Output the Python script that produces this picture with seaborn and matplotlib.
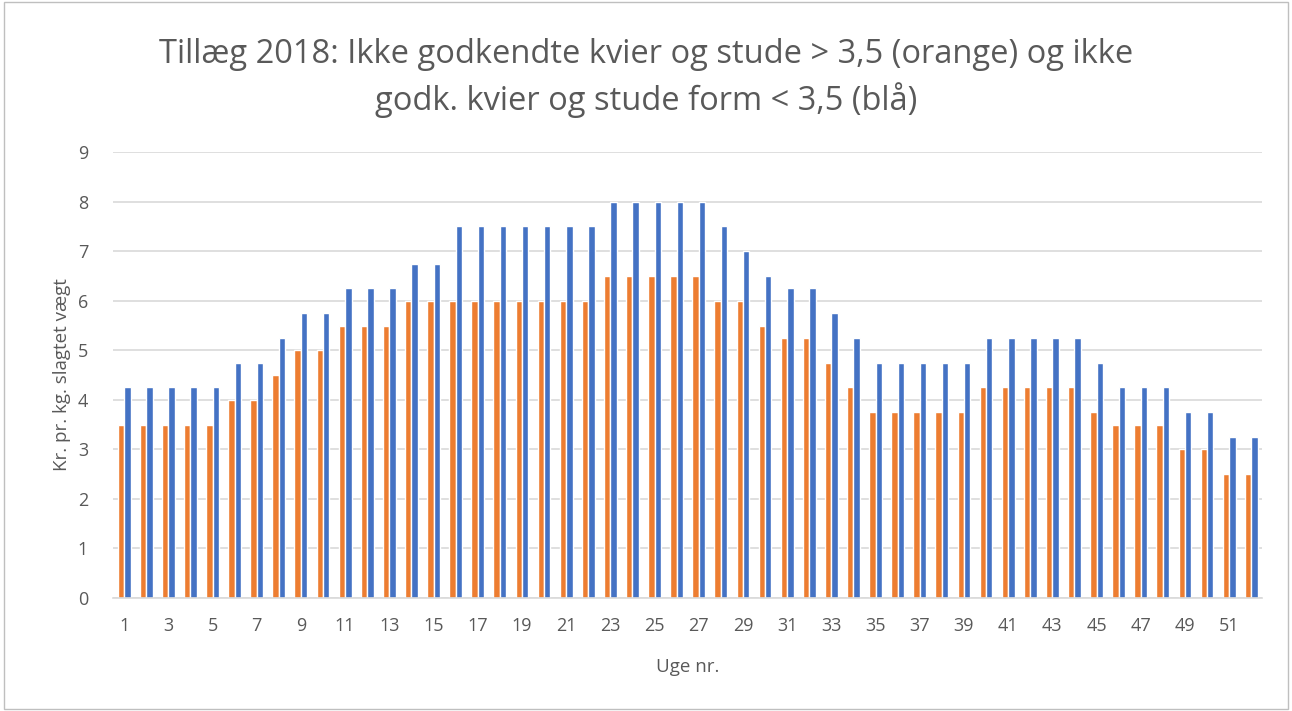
import matplotlib
matplotlib.use('Agg')
import matplotlib.pyplot as plt
import matplotlib.patches as patches
import numpy as np
import pandas as pd
import seaborn as sns

# Ugenumre og tillæg (kr. pr. kg)
uger = list(range(1, 53))
orange = [3.5, 3.5, 3.5, 3.5, 3.5, 4, 4, 4.5, 5, 5,
          5.5, 5.5, 5.5, 6, 6, 6, 6, 6, 6, 6,
          6, 6, 6.5, 6.5, 6.5, 6.5, 6.5, 6, 6, 5.5,
          5.25, 5.25, 4.75, 4.25, 3.75, 3.75, 3.75, 3.75, 3.75, 4.25,
          4.25, 4.25, 4.25, 4.25, 3.75, 3.5, 3.5, 3.5, 3, 3,
          2.5, 2.5]
blaa = [4.25, 4.25, 4.25, 4.25, 4.25, 4.75, 4.75, 5.25, 5.75, 5.75,
        6.25, 6.25, 6.25, 6.75, 6.75, 7.5, 7.5, 7.5, 7.5, 7.5,
        7.5, 7.5, 8, 8, 8, 8, 8, 7.5, 7, 6.5,
        6.25, 6.25, 5.75, 5.25, 4.75, 4.75, 4.75, 4.75, 4.75, 5.25,
        5.25, 5.25, 5.25, 5.25, 4.75, 4.25, 4.25, 4.25, 3.75, 3.75,
        3.25, 3.25]

df = pd.DataFrame({
    'uge': uger * 2,
    'kr': orange + blaa,
    'serie': ['orange'] * 52 + ['blaa'] * 52,
})

sns.set_style('white')
plt.rcParams['font.family'] = ['Open Sans', 'DejaVu Sans']

fig = plt.figure(figsize=(12.92, 7.11), dpi=100)
ax = fig.add_axes([0.0875, 0.159, 0.8895, 0.627])

sns.barplot(data=df, x='uge', y='kr', hue='serie', hue_order=['orange', 'blaa'],
            palette={'orange': '#ED7D31', 'blaa': '#4472C4'},
            width=0.58, gap=0, saturation=1, dodge=True, ax=ax, legend=False)

ax.set_ylim(0, 9)
ax.set_xlim(-0.5, 51.5)
ax.set_yticks(range(0, 10))
ax.set_xticks(range(0, 52, 2))
ax.set_xticklabels([str(u) for u in uger[::2]])
ax.tick_params(axis='both', length=0, labelsize=13, colors='#595959')
ax.tick_params(axis='x', pad=14)
ax.tick_params(axis='y', pad=18)
ax.yaxis.grid(True, color='#D9D9D9', linewidth=1.2)
ax.set_axisbelow(True)
for s in ['top', 'right', 'left']:
    ax.spines[s].set_visible(False)
ax.spines['bottom'].set_color('#D9D9D9')
ax.spines['bottom'].set_linewidth(1.2)

ax.set_xlabel('Uge nr.', fontsize=13.5, color='#595959', labelpad=16)
ax.set_ylabel('Kr. pr. kg. slagtet vægt', fontsize=13.5, color='#595959', labelpad=5)

fig.suptitle('Tillæg 2018: Ikke godkendte kvier og stude > 3,5 (orange) og ikke\n'
             'godk. kvier og stude form < 3,5 (blå)',
             fontsize=23.5, color='#595959', y=0.947, linespacing=1.4)

fig.patches.append(patches.Rectangle((0.003, 0.003), 0.994, 0.994, transform=fig.transFigure,
                                     fill=False, edgecolor='#BFBFBF', linewidth=1))

fig.savefig('out.png', dpi=100)
